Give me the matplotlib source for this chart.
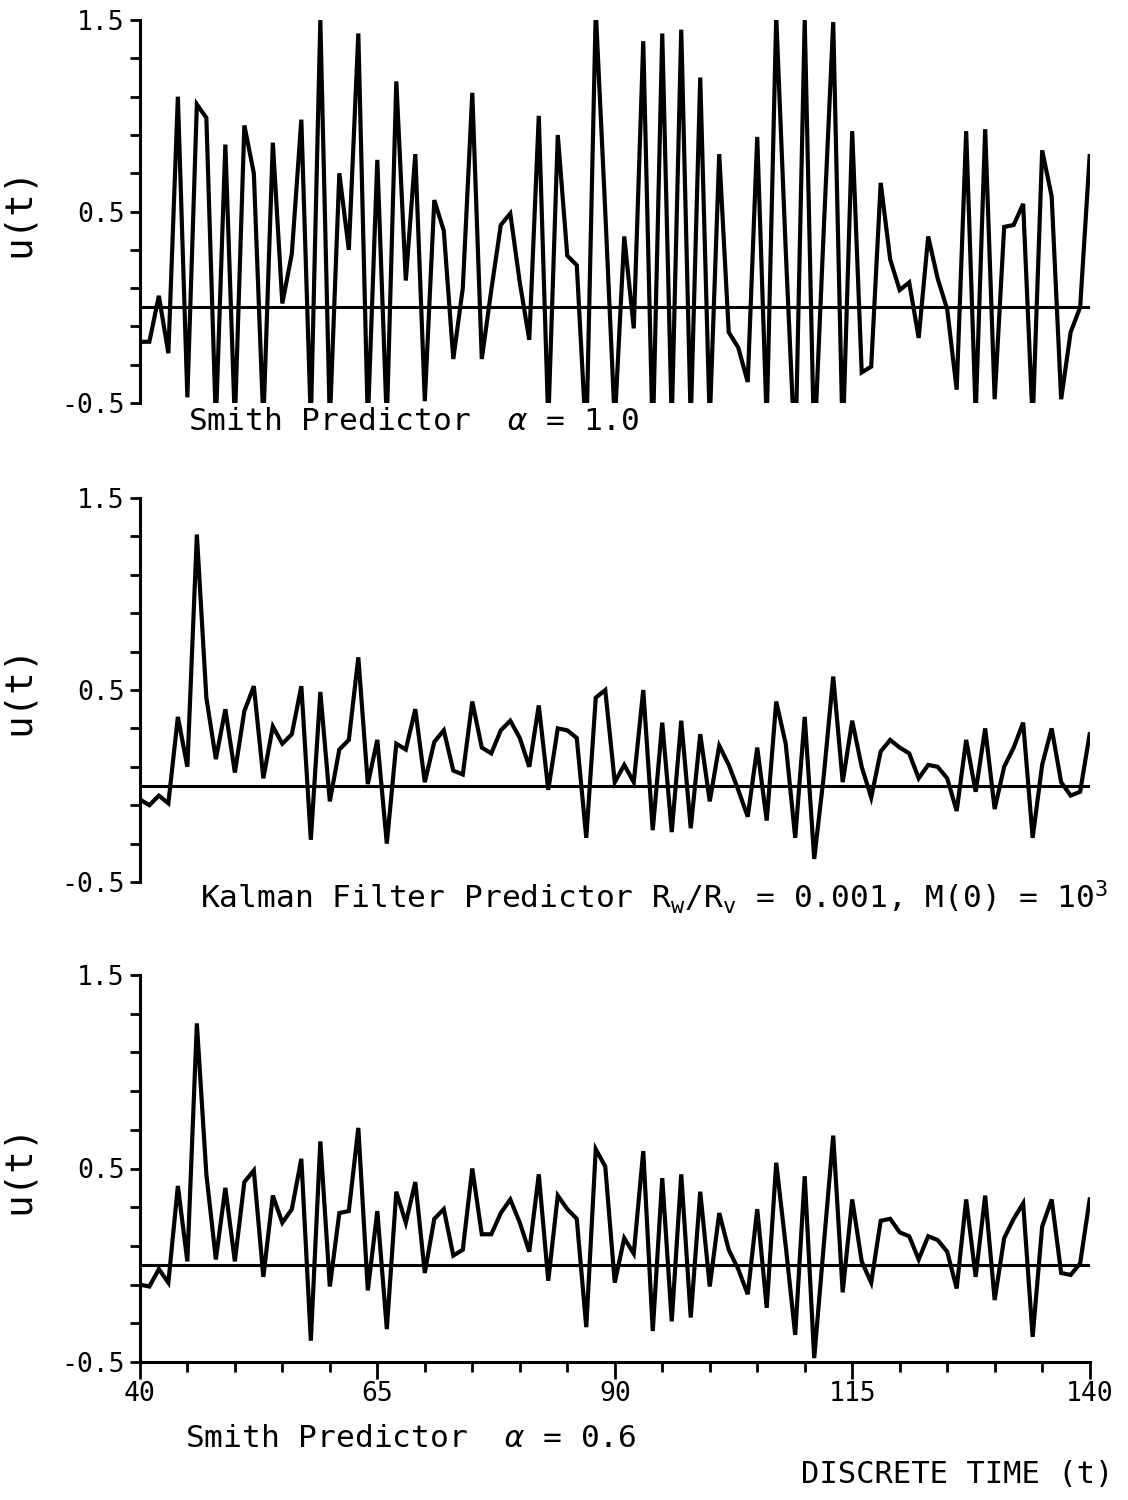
import numpy as np
import matplotlib.pyplot as plt
from matplotlib.ticker import FixedLocator

plt.rcParams['font.family'] = ['DejaVu Sans Mono', 'DejaVu Sans']
plt.rcParams['mathtext.fontset'] = 'custom'
plt.rcParams['mathtext.rm'] = 'DejaVu Sans Mono'
plt.rcParams['mathtext.it'] = 'DejaVu Sans Mono:italic'

# discrete time axis
t = np.arange(40, 141)

# control signal u(t), Smith predictor, alpha = 1.0
u_smith_10 = [
    -0.18, -0.18, 0.06, -0.24, 1.10, -0.47, 1.06, 0.99, -0.60, 0.85,
    -0.60, 0.95, 0.70, -0.60, 0.86, 0.02, 0.28, 0.98, -0.60, 1.50,
    -0.60, 0.70, 0.30, 1.43, -0.60, 0.77, -0.60, 1.18, 0.14, 0.80,
    -0.49, 0.56, 0.40, -0.27, 0.10, 1.12, -0.27, 0.09, 0.43, 0.49,
    0.13, -0.17, 1.00, -0.60, 0.90, 0.27, 0.22, -0.70, 1.55, 0.50,
    -0.60, 0.37, -0.11, 1.39, -0.70, 1.43, -0.60, 1.45, -0.60, 1.20,
    -0.60, 0.80, -0.13, -0.21, -0.39, 0.89, -0.60, 1.52, 0.30, -0.80,
    1.50, -0.75, 0.40, 1.49, -0.70, 0.92, -0.34, -0.31, 0.65, 0.25,
    0.09, 0.13, -0.16, 0.37, 0.15, -0.01, -0.43, 0.92, -0.56, 0.93,
    -0.48, 0.42, 0.43, 0.54, -0.60, 0.82, 0.58, -0.48, -0.13, 0.00,
    0.79,
]

# control signal u(t), Kalman filter predictor
u_kalman = [
    -0.07, -0.10, -0.05, -0.09, 0.36, 0.10, 1.31, 0.46, 0.14, 0.40,
    0.07, 0.39, 0.52, 0.04, 0.31, 0.22, 0.27, 0.52, -0.28, 0.49,
    -0.08, 0.19, 0.24, 0.67, 0.01, 0.24, -0.30, 0.22, 0.19, 0.40,
    0.02, 0.23, 0.29, 0.08, 0.06, 0.44, 0.20, 0.17, 0.29, 0.34,
    0.25, 0.10, 0.42, -0.02, 0.30, 0.29, 0.25, -0.27, 0.46, 0.50,
    0.02, 0.11, 0.02, 0.50, -0.23, 0.33, -0.24, 0.34, -0.22, 0.27,
    -0.08, 0.21, 0.11, -0.02, -0.16, 0.20, -0.18, 0.44, 0.22, -0.27,
    0.36, -0.38, 0.05, 0.57, 0.02, 0.34, 0.10, -0.06, 0.18, 0.24,
    0.20, 0.17, 0.04, 0.11, 0.10, 0.04, -0.13, 0.24, -0.03, 0.30,
    -0.12, 0.10, 0.20, 0.33, -0.27, 0.11, 0.30, 0.02, -0.05, -0.03,
    0.27,
]

# control signal u(t), Smith predictor, alpha = 0.6
u_smith_06 = [
    -0.10, -0.11, -0.02, -0.09, 0.41, 0.02, 1.25, 0.47, 0.03, 0.40,
    0.02, 0.43, 0.49, -0.06, 0.36, 0.22, 0.29, 0.55, -0.39, 0.64,
    -0.11, 0.27, 0.28, 0.71, -0.13, 0.28, -0.33, 0.38, 0.22, 0.43,
    -0.04, 0.24, 0.29, 0.05, 0.08, 0.50, 0.16, 0.16, 0.27, 0.34,
    0.22, 0.07, 0.47, -0.08, 0.36, 0.29, 0.24, -0.32, 0.60, 0.51,
    -0.09, 0.14, 0.06, 0.59, -0.34, 0.45, -0.29, 0.47, -0.27, 0.38,
    -0.11, 0.27, 0.08, -0.02, -0.15, 0.29, -0.22, 0.53, 0.10, -0.36,
    0.46, -0.48, 0.10, 0.67, -0.14, 0.34, 0.02, -0.09, 0.23, 0.24,
    0.17, 0.15, 0.03, 0.15, 0.13, 0.07, -0.12, 0.34, -0.06, 0.36,
    -0.18, 0.14, 0.24, 0.32, -0.37, 0.20, 0.34, -0.04, -0.05, 0.01,
    0.34,
]

series = [u_smith_10, u_kalman, u_smith_06]
captions = [
    r'Smith Predictor  $\alpha$ = 1.0',
    r'Kalman Filter Predictor R$_{\rm w}$/R$_{\rm v}$ = 0.001, M(0) = 10$^{3}$',
    r'Smith Predictor  $\alpha$ = 0.6',
]
# caption anchors in figure fractions (x, y)
caption_pos = [(0.167, 0.7187), (0.177, 0.4020), (0.164, 0.0413)]

y_major = [-0.5, 0.5, 1.5]
y_labels = ['-0.5', '0.5', '1.5']
x_major = [40, 65, 90, 115, 140]

# axes boxes in figure fractions: [left, bottom, width, height]
boxes = [
    [0.124, 0.7313, 0.842, 0.2553],
    [0.124, 0.4120, 0.842, 0.2560],
    [0.124, 0.0920, 0.842, 0.2580],
]

fig = plt.figure(figsize=(11.28, 15), dpi=100)

for i, (u, box) in enumerate(zip(series, boxes)):
    ax = fig.add_axes(box)
    ax.plot(t, u, color='black', lw=3.0, solid_joinstyle='miter')
    ax.axhline(0, color='black', lw=2.2)
    ax.set_xlim(40, 140)
    ax.set_ylim(-0.5, 1.5)

    for side in ['top', 'right']:
        ax.spines[side].set_visible(False)
    ax.spines['left'].set_linewidth(2.2)
    ax.spines['bottom'].set_linewidth(2.2)

    ax.yaxis.set_major_locator(FixedLocator(y_major))
    ax.yaxis.set_minor_locator(FixedLocator(np.arange(-0.5, 1.55, 0.2)))
    ax.set_yticklabels(y_labels, fontsize=19)
    ax.tick_params(axis='y', which='both', length=7, width=2, pad=4)
    ax.set_ylabel('u(t)', fontsize=27)
    ax.yaxis.set_label_coords(-0.108, 0.5)

    if i < 2:
        ax.spines['bottom'].set_visible(False)
        ax.set_xticks([])
    else:
        ax.xaxis.set_major_locator(FixedLocator(x_major))
        ax.xaxis.set_minor_locator(FixedLocator(np.arange(40, 141, 5)))
        ax.tick_params(axis='x', which='major', length=12, width=2,
                       labelsize=19, pad=2)
        ax.tick_params(axis='x', which='minor', length=7, width=2)

    cx, cy = caption_pos[i]
    fig.text(cx, cy, captions[i], fontsize=22.5, va='center', ha='left')

fig.text(0.71, 0.0167, 'DISCRETE TIME (t)', fontsize=22, va='center', ha='left')

fig.savefig('out.png', dpi=100, facecolor='white')
